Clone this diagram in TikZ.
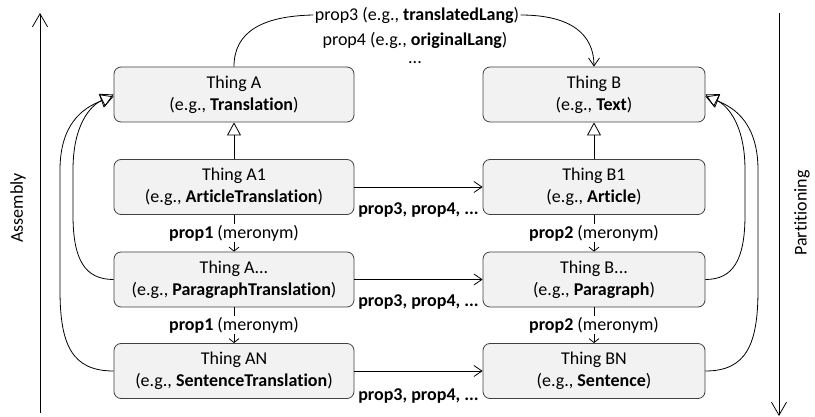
\documentclass[tikz,border=0pt]{standalone}
\usepackage{fontspec}
\setmainfont{Carlito}[Ligatures={NoCommon,NoContextual}]
\usetikzlibrary{arrows.meta}
\definecolor{boxfill}{HTML}{F2F2F2}
\definecolor{boxline}{HTML}{404040}
\begin{document}
\begin{tikzpicture}[x=1pt,y=-1pt,line width=0.8pt,
  font=\fontsize{18}{22}\selectfont,
  thing/.style={draw=boxline,fill=boxfill,rounded corners=7pt,minimum height=55pt,align=center,inner sep=0pt},
  thingA/.style={thing,minimum width=240pt},
  thingB/.style={thing,minimum width=222pt},
  lbl/.style={inner sep=1pt},
  inherit/.style={-{Triangle[open,length=13pt,width=14pt]}},
  mero/.style={-{Straight Barb[length=4pt,width=10pt]}},
  rel/.style={-{Straight Barb[length=8pt,width=11pt]}},
  axis/.style={-{Straight Barb[length=13pt,width=15pt]}},
]
\useasboundingbox (0,0) rectangle (815,417);

% boxes
\node[thingA] (A)  at (234,94.5)  {Thing A\\(e.g., \textbf{Translation})};
\node[thingA] (A1) at (234,187)   {Thing A1\\(e.g., \textbf{ArticleTranslation})};
\node[thingA] (A2) at (234,279.5) {Thing A...\\(e.g., \textbf{ParagraphTranslation})};
\node[thingA] (AN) at (234,371)   {Thing AN\\(e.g., \textbf{SentenceTranslation})};
\node[thingB] (B)  at (594,94.5)  {Thing B\\(e.g., \textbf{Text})};
\node[thingB] (B1) at (594,187)   {Thing B1\\(e.g., \textbf{Article})};
\node[thingB] (B2) at (594,279.5) {Thing B...\\(e.g., \textbf{Paragraph})};
\node[thingB] (BN) at (594,371)   {Thing BN\\(e.g., \textbf{Sentence})};

% top labels
\node[lbl] (p3) at (417,15) {prop3 (e.g., \textbf{translatedLang})};
\node[lbl] (p4) at (415,40) {prop4 (e.g., \textbf{originalLang})};
\node[lbl] (dots) at (415,63) {...};
\draw (A.north) .. controls (234,32) and (262,16) .. (p3.west);
\draw[rel] (p3.east) .. controls (572,15) and (594,35) .. (B.north);

% inheritance
\draw[inherit] (A1.north) -- (A.south);
\draw[inherit] (B1.north) -- (B.south);

% meronyms
\draw[mero] (A1.south) -- node[fill=white,lbl]{\textbf{prop1} (meronym)} (A2.north);
\draw[mero] (A2.south) -- node[fill=white,lbl]{\textbf{prop1} (meronym)} (AN.north);
\draw[mero] (B1.south) -- node[fill=white,lbl]{\textbf{prop2} (meronym)} (B2.north);
\draw[mero] (B2.south) -- node[fill=white,lbl]{\textbf{prop2} (meronym)} (BN.north);

% horizontal relations
\draw[rel] (A1.east) -- node[below=15pt,inner sep=0pt]{\textbf{prop3, prop4, ...}} (B1.west);
\draw[rel] (A2.east) -- node[below=15pt,inner sep=0pt]{\textbf{prop3, prop4, ...}} (B2.west);
\draw[rel] (AN.east) -- node[below=17pt,inner sep=0pt]{\textbf{prop3, prop4, ...}} (BN.west);

% left loops
\draw[inherit] (A2.west) .. controls (85,279.5) and (73,260) .. (73,215) -- (73,170) .. controls (73,125) and (90,106) .. (A.west);
\draw[inherit] (AN.west) .. controls (72,371) and (60,345) .. (60,290) -- (60,170) .. controls (60,125) and (82,108) .. ([yshift=-2pt]A.west);
% right loops
\draw[inherit] (B2.east) .. controls (733,279.5) and (745,260) .. (745,215) -- (745,170) .. controls (745,125) and (728,106) .. (B.east);
\draw[inherit] (BN.east) .. controls (746,371) and (758,345) .. (758,290) -- (758,170) .. controls (758,125) and (736,108) .. ([yshift=-2pt]B.east);

% axes
\coordinate (lb) at (40,413);
\coordinate (lt) at (40,13);
\coordinate (rt) at (779,13);
\coordinate (rb) at (779,416);
\draw[axis] (lb) -- (lt);
\draw[axis] (rt) -- (rb);
\node[rotate=90] (asm) at (18,208) {Assembly};
\node[rotate=90] (part) at (802,213) {Partitioning};
\end{tikzpicture}
\end{document}
